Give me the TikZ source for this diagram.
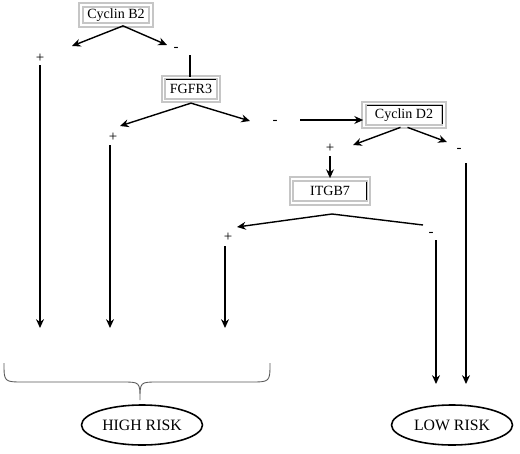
\documentclass[tikz,border=0pt]{standalone}
\usepackage{fontspec}
\setmainfont{Liberation Serif}
\usetikzlibrary{positioning,arrows.meta,shapes.geometric}

\tikzset{
  gene/.style={draw=gray!45, double=white, double distance=0.9pt, line width=1pt,
    inner sep=1pt, font=\fontsize{8}{9}\selectfont},
  sign/.style={inner sep=0pt, font=\fontsize{8.5}{9}\selectfont},
  risk/.style={ellipse, draw, line width=0.9pt, minimum width=2.42cm, minimum height=0.8cm,
    inner sep=0pt, font=\fontsize{9}{10}\selectfont},
  edge/.style={-{Stealth[length=5pt,width=4.5pt]}, line width=0.8pt},
  plain/.style={line width=0.8pt}
}

\begin{document}
\begin{tikzpicture}[x=0.02cm,y=-0.02cm]
  \useasboundingbox (0,0) rectangle (520,453);

  % gene boxes
  \node[gene, minimum width=1.40cm, minimum height=0.40cm] (cycb2) at (116,15) {Cyclin B2};
  \node[gene, minimum width=1.10cm, minimum height=0.46cm] (fgfr3) at (191,89) {FGFR3};
  \node[gene, minimum width=1.60cm, minimum height=0.46cm] (cycd2) at (404,115) {Cyclin D2};
  \node[gene, minimum width=1.54cm, minimum height=0.48cm] (itgb7) at (330,191) {ITGB7};

  % dark inner edges of the boxes
  \draw[line width=0.7pt] ([xshift=2pt,yshift=-1.5pt]fgfr3.north west) -- ([xshift=-2pt,yshift=-1.5pt]fgfr3.north east);
  \draw[line width=0.8pt] ([xshift=2pt,yshift=-1.5pt]cycd2.north west) -- ([xshift=-1.5pt,yshift=-1.5pt]cycd2.north east)
    -- ([xshift=-1.5pt,yshift=2pt]cycd2.south east);
  \draw[line width=0.8pt] ([xshift=-1.5pt,yshift=-2pt]itgb7.north east) -- ([xshift=-1.5pt,yshift=2pt]itgb7.south east);

  % signs
  \node[sign] (b2p) at (40,58) {+};
  \node[sign] (b2m) at (176,49) {-};
  \node[sign] (f3p) at (113,137) {+};
  \node[sign] (f3m) at (275,122) {-};
  \node[sign] (d2p) at (330,148) {+};
  \node[sign] (d2m) at (459,150) {-};
  \node[sign] (i7p) at (228,237) {+};
  \node[sign] (i7m) at (431,234) {-};

  % outcomes
  \node[risk] (high) at (142,425) {HIGH RISK};
  \node[risk] (low) at (452,425) {LOW RISK};

  % free ends
  \coordinate (b2l) at (72,46);
  \coordinate (b2r) at (167,45);
  \coordinate (b2down) at (190,55);
  \coordinate (f3l) at (120,126);
  \coordinate (f3r) at (250,121);
  \coordinate (f3go) at (300,120);
  \coordinate (d2l) at (353,145);
  \coordinate (d2r) at (447,142);
  \coordinate (i7fork) at (332,214);
  \coordinate (i7l) at (237,227);
  \coordinate (i7r) at (423,225);
  \coordinate (hr1top) at (40,65);   \coordinate (hr1) at (40,328);
  \coordinate (hr2top) at (110,145); \coordinate (hr2) at (110,328);
  \coordinate (hr3top) at (225,246); \coordinate (hr3) at (225,328);
  \coordinate (lr1top) at (436,240); \coordinate (lr1) at (436,384);
  \coordinate (lr2top) at (466,163); \coordinate (lr2) at (466,384);

  % Cyclin B2 split
  \draw[edge] ([xshift=4pt]cycb2.south) -- (b2l);
  \draw[edge] ([xshift=4pt]cycb2.south) -- (b2r);
  \draw[plain] (b2down) -- (fgfr3.north -| b2down);

  % FGFR3 split
  \draw[edge] ([yshift=-1pt]fgfr3.south) -- (f3l);
  \draw[edge] ([yshift=-1pt]fgfr3.south) -- (f3r);
  \draw[edge] (f3go) -- (f3go -| cycd2.west);

  % Cyclin D2 split
  \draw[edge] ([xshift=-2pt]cycd2.south) -- (d2l);
  \draw[edge] ([xshift=2pt]cycd2.south) -- (d2r);
  \draw[edge, shorten <=2pt] (d2p) -- (itgb7);

  % ITGB7 split
  \draw[edge] (i7fork) -- (i7l);
  \draw[plain] (i7fork) -- (i7r);

  % down to the outcomes
  \draw[edge] (hr1top) -- (hr1);
  \draw[edge] (hr2top) -- (hr2);
  \draw[edge] (hr3top) -- (hr3);
  \draw[edge] (lr1top) -- (lr1);
  \draw[edge] (lr2top) -- (lr2);

  % brace over HIGH RISK
  \draw[gray!70!black, line width=0.5pt] (4,363) .. controls (4,382) .. (24,382) -- (122,382)
    .. controls (140,382) .. (140,400) .. controls (140,382) .. (158,382) -- (250,382)
    .. controls (270,382) .. (270,363);
\end{tikzpicture}
\end{document}
